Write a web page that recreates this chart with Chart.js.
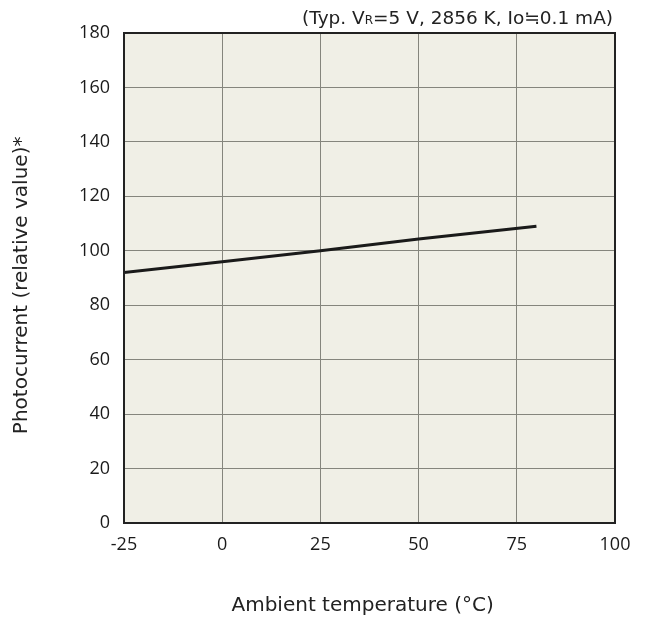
<!DOCTYPE html>
<html><head><meta charset="utf-8">
<script src="https://cdn.jsdelivr.net/npm/chart.js@4/dist/chart.umd.min.js"></script>
<style>html,body{margin:0;padding:0;background:#fff}#wrap{width:650px;height:623px}</style>
</head><body><div id="wrap"><canvas id="c" width="650" height="623"></canvas></div>
<script>
const temps = [-25, 0, 25, 50, 80];
const photocurrent = [92, 96, 100, 104.3, 109];
const xTicks = [-25, 0, 25, 50, 75, 100];
const yTicks = [0, 20, 40, 60, 80, 100, 120, 140, 160, 180];
const xTitle = 'Ambient temperature (°C)';
const yTitle = 'Photocurrent (relative value)*';
const FONT = "'DejaVu Sans', Verdana, sans-serif";
const TFONT = "'Open Sans', 'Noto Sans', sans-serif";

const bgPlugin = {
  id: 'bg',
  beforeDraw(chart) {
    const {ctx, chartArea: a} = chart;
    ctx.save(); ctx.fillStyle = '#f0efe6';
    ctx.fillRect(a.left, a.top, a.right - a.left, a.bottom - a.top);
    ctx.restore();
  },
  afterDraw(chart) {
    const {ctx, chartArea: a} = chart;
    ctx.save();
    ctx.strokeStyle = '#222'; ctx.lineWidth = 2;
    ctx.strokeRect(a.left, a.top, a.right - a.left, a.bottom - a.top);
    const parts = [['(Typ. V', 18.5, 0], ['R', 12, 0], ['=5 V, 2856 K, Io\u22520.1 mA)', 18.5, 0]];
    let total = 0;
    parts.forEach(p => { ctx.font = p[1] + 'px ' + FONT; p[2] = ctx.measureText(p[0]).width; total += p[2]; });
    let x = a.right - 2 - total;
    ctx.fillStyle = '#222'; ctx.textBaseline = 'alphabetic'; ctx.textAlign = 'left';
    parts.forEach(p => { ctx.font = p[1] + 'px ' + FONT; ctx.fillText(p[0], x, 24); x += p[2]; });
    // axis titles
    ctx.font = '20px ' + FONT; ctx.textAlign = 'center'; ctx.textBaseline = 'middle';
    ctx.fillText(xTitle, a.left + (a.right - a.left) * 0.486, 606);
    ctx.translate(22, a.top + (a.bottom - a.top) * 0.515);
    ctx.rotate(-Math.PI / 2);
    ctx.fillText(yTitle, 0, 0);
    ctx.restore();
  }
};

new Chart(document.getElementById('c'), {
  type: 'line',
  data: { datasets: [{
    data: temps.map((t, i) => ({x: t, y: photocurrent[i]})),
    borderColor: '#1a1a1a', borderWidth: 3, pointRadius: 0, tension: 0, fill: false
  }]},
  options: {
    responsive: false, animation: false,
    layout: { padding: { left: 0, top: 33, right: 35, bottom: 0 } },
    plugins: { legend: { display: false }, tooltip: { enabled: false } },
    scales: {
      x: {
        type: 'linear', min: -25, max: 100,
        afterBuildTicks: s => { s.ticks = xTicks.map(v => ({value: v})); },
        afterFit: s => { s.height = 100; },
        grid: { color: '#85857d', lineWidth: 1, drawTicks: false },
        border: { display: false },
        ticks: { color: '#1a1a1a', font: { family: TFONT, size: 18 }, padding: 11, maxRotation: 0 },
        title: { display: false }
      },
      y: {
        type: 'linear', min: 0, max: 180,
        afterBuildTicks: s => { s.ticks = yTicks.map(v => ({value: v})); },
        afterFit: s => { s.width = 124; },
        grid: { color: '#85857d', lineWidth: 1, drawTicks: false },
        border: { display: false },
        ticks: { color: '#1a1a1a', font: { family: TFONT, size: 18 }, padding: 14 },
        title: { display: false }
      }
    }
  },
  plugins: [bgPlugin]
});
</script></body></html>
